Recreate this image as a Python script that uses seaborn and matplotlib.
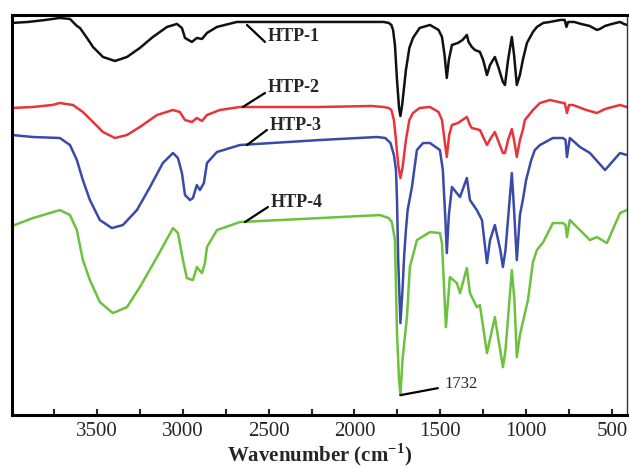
import numpy as np
import pandas as pd
import matplotlib
matplotlib.use("Agg")
import matplotlib.pyplot as plt
import seaborn as sns

# FTIR spectra (wavenumber in cm^-1, transmittance in arbitrary offset units)
htp1_wn = [3995, 3900, 3800, 3716, 3657, 3617, 3599, 3558, 3523, 3465, 3395, 3325, 3250, 3174, 3092,
           3034, 3005, 2987, 2947, 2918, 2888, 2859, 2801, 2685, 2300, 2000,
           1830, 1800, 1785, 1775, 1764, 1752, 1740, 1732, 1722, 1700, 1680, 1659, 1620, 1560, 1510,
           1490, 1475, 1462, 1450, 1432, 1397, 1370, 1345, 1335, 1316, 1298, 1269, 1250, 1228, 1210,
           1182, 1160, 1135, 1123, 1105, 1083, 1070, 1054, 1036, 1019, 995, 960, 937, 900, 861,
           800, 775, 765, 755, 720, 680, 630, 587, 570, 540, 500, 453, 430, 413]
htp1_t = [392, 393, 395, 397, 396, 389, 387, 377, 368, 358, 354, 358, 367, 378, 388,
          391, 387, 377, 373, 377, 376, 382, 388, 393, 393, 393,
          393, 392, 390, 385, 370, 335, 307, 299, 310, 345, 367, 377, 387, 390, 385,
          378, 360, 337, 355, 370, 372, 375, 380, 373, 368, 365, 363, 355, 340, 350,
          358, 347, 333, 330, 355, 378, 360, 330, 340, 355, 372, 383, 388, 392, 393,
          395, 395, 388, 393, 393, 391, 389, 385, 386, 389, 391, 393, 391, 390]

htp2_wn = [3995, 3873, 3760, 3716, 3640, 3582, 3523, 3465, 3395, 3325, 3250, 3150, 3057, 3017, 2987,
           2947, 2918, 2888, 2859, 2784, 2667, 2201, 1900, 1830, 1800, 1785, 1770, 1758, 1745,
           1732, 1720, 1700, 1680, 1659, 1620, 1560, 1510, 1490, 1475, 1462, 1448, 1432, 1397, 1345,
           1327, 1316, 1269, 1250, 1228, 1205, 1182, 1160, 1135, 1123, 1105, 1083, 1068, 1054, 1036,
           1019, 1007, 960, 919, 861, 785, 775, 762, 750, 727, 650, 587, 540, 453, 413]
htp2_t = [307, 308, 310, 312, 310, 303, 293, 283, 277, 280, 288, 300, 305, 303, 295,
          293, 297, 294, 300, 305, 308, 308, 309, 308, 307, 305, 295, 275, 250,
          237, 247, 275, 295, 302, 307, 308, 303, 295, 275, 258, 280, 290, 292, 298,
          290, 287, 285, 278, 270, 277, 283, 273, 262, 262, 275, 286, 273, 258, 275,
          285, 295, 305, 312, 315, 312, 312, 302, 310, 310, 305, 302, 306, 310, 308]

htp3_wn = [3995, 3873, 3716, 3657, 3617, 3582, 3541, 3483, 3413, 3349, 3267, 3191, 3116, 3057, 3028,
           3005, 2987, 2958, 2941, 2918, 2900, 2877, 2859, 2801, 2667, 2201, 1869, 1820, 1790,
           1770, 1758, 1752, 1745, 1732, 1720, 1710, 1700, 1690, 1665, 1636, 1600, 1560, 1502, 1485,
           1470, 1462, 1450, 1432, 1385, 1345, 1327, 1287, 1257, 1228, 1210, 1182, 1150, 1135, 1120,
           1083, 1070, 1054, 1036, 1019, 1000, 970, 949, 919, 844, 785, 770, 762, 745, 686,
           628, 540, 453, 413]
htp3_t = [280, 278, 277, 270, 255, 235, 215, 195, 187, 190, 205, 228, 252, 262, 257,
          242, 220, 215, 217, 230, 225, 232, 252, 263, 270, 275, 278, 277, 272,
          260, 245, 215, 155, 92, 125, 160, 185, 205, 228, 265, 272, 272, 265, 245,
          195, 162, 200, 228, 218, 237, 215, 205, 195, 152, 175, 190, 165, 148, 165,
          242, 205, 155, 200, 215, 235, 255, 265, 270, 277, 277, 275, 258, 277, 268,
          262, 245, 262, 260]

htp4_wn = [3995, 3873, 3716, 3657, 3617, 3582, 3541, 3483, 3407, 3325, 3250, 3150, 3057, 3028, 2999,
           2976, 2941, 2918, 2888, 2871, 2859, 2801, 2667, 2201, 1852, 1800, 1782, 1764, 1752,
           1740, 1732, 1720, 1694, 1677, 1636, 1560, 1502, 1490, 1467, 1444, 1403, 1385, 1345, 1327,
           1287, 1269, 1228, 1182, 1135, 1120, 1083, 1068, 1054, 1036, 1019, 989, 960, 937, 900,
           844, 785, 770, 762, 745, 686, 628, 587, 529, 453, 413]
htp4_t = [189, 197, 205, 200, 185, 155, 135, 113, 102, 108, 128, 158, 187, 182, 155,
          137, 135, 148, 142, 152, 168, 185, 193, 197, 200, 197, 193, 175, 82,
          35, 20, 55, 98, 148, 175, 183, 182, 172, 88, 138, 132, 122, 147, 122,
          108, 110, 62, 98, 48, 65, 145, 115, 58, 80, 93, 115, 153, 165, 173,
          192, 192, 190, 178, 195, 185, 175, 178, 172, 202, 205]

samples = ["HTP-1", "HTP-2", "HTP-3", "HTP-4"]
colors = ["#111111", "#e8343a", "#3a4aa8", "#6cc23c"]

# Leader lines for the sample labels: (point on curve), (label end)
label_lines = {
    "HTP-1": ((2626, 390), (2521, 373)),
    "HTP-2": ((2650, 308), (2521, 322)),
    "HTP-3": ((2626, 270), (2510, 285)),
    "HTP-4": ((2638, 193), (2504, 208)),
}
peak_wn = 1732
peak_t = 20

frames = []
for name, wn, t in zip(samples, [htp1_wn, htp2_wn, htp3_wn, htp4_wn],
                       [htp1_t, htp2_t, htp3_t, htp4_t]):
    frames.append(pd.DataFrame({"wavenumber": wn, "T": t, "sample": name}))
df = pd.concat(frames, ignore_index=True)

sns.set_style("ticks")
plt.rcParams["font.family"] = ["Liberation Serif", "DejaVu Serif"]
plt.rcParams["mathtext.fontset"] = "custom"
plt.rcParams["mathtext.rm"] = "Liberation Serif"
plt.rcParams["mathtext.bf"] = "Liberation Serif:bold"

fig = plt.figure(figsize=(6.3, 4.67), dpi=100)
ax = fig.add_axes([0.019, 0.111, 0.976, 0.857])

sns.lineplot(data=df, x="wavenumber", y="T", hue="sample", hue_order=samples,
             palette=colors, estimator=None, sort=False, legend=False,
             linewidth=1.8, ax=ax)

ax.set_xlim(3995, 413)
ax.set_ylim(0, 400)
ax.set_yticks([])
ax.set_ylabel("")
ax.set_xticks([3500, 3000, 2500, 2000, 1500, 1000, 500])
ax.set_xticks([3750, 3250, 2750, 2250, 1750, 1250, 750], minor=True)
ax.tick_params(axis="x", which="both", direction="in", length=4, width=1.5,
               labelsize=15, pad=5, top=False)
ax.set_xlabel(r"Wavenumber (cm$^{\mathbf{-1}}$)", fontsize=15, fontweight="bold", labelpad=0)

for side in ["left", "top", "bottom"]:
    ax.spines[side].set_linewidth(2.2)
    ax.spines[side].set_color("black")
ax.spines["right"].set_linewidth(1.0)
ax.spines["right"].set_color("#333333")

for name, (start, end) in label_lines.items():
    ax.annotate("", xy=start, xytext=end,
                arrowprops=dict(arrowstyle="-", lw=1.6, color="black", shrinkA=0, shrinkB=0))
    ax.text(end[0] - 15, end[1] + 5, name, fontsize=13, fontweight="bold",
            ha="left", va="center")

ax.annotate("", xy=(peak_wn, peak_t), xytext=(1514, 27),
            arrowprops=dict(arrowstyle="-", lw=1.6, color="black", shrinkA=0, shrinkB=0))
ax.text(1473, 31, str(peak_wn), fontsize=12, ha="left", va="center")

fig.savefig("out.png", dpi=100)
